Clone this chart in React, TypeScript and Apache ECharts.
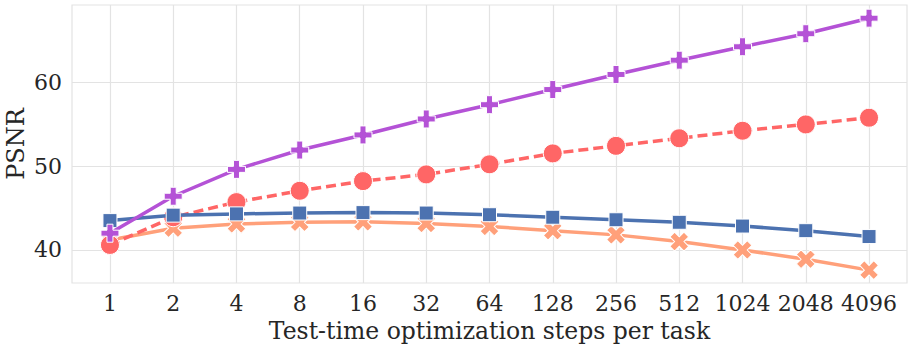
import React, { useEffect, useRef } from "react";
import * as echarts from "echarts";

const steps = ["1", "2", "4", "8", "16", "32", "64", "128", "256", "512", "1024", "2048", "4096"];
const blueSquare = [43.5, 44.15, 44.3, 44.4, 44.45, 44.4, 44.2, 43.9, 43.6, 43.3, 42.85, 42.3, 41.6];
const orangeX = [41.2, 42.6, 43.1, 43.3, 43.35, 43.15, 42.8, 42.3, 41.8, 41.0, 40.0, 38.9, 37.6];
const redCircle = [40.6, 43.9, 45.7, 47.05, 48.2, 49.0, 50.2, 51.5, 52.4, 53.3, 54.2, 54.95, 55.75];
const purplePlus = [42.0, 46.4, 49.6, 51.9, 53.7, 55.6, 57.3, 59.1, 60.9, 62.6, 64.2, 65.75, 67.6];
const yTicks = [40, 50, 60];

const PLUS = "path://M2,0H4V2H6V4H4V6H2V4H0V2H2Z";
const FONT = "DejaVu Serif";

export default function App() {
  const ref = useRef<HTMLDivElement>(null);
  useEffect(() => {
    document.body.style.margin = "0";
    if (!ref.current) return;
    const chart = echarts.init(ref.current, null, { renderer: "svg" });
    const idx = steps.map((_, i) => i);
    const toData = (arr: number[]) => arr.map((v, i) => [i, v]);
    const mk = (name: string, data: number[], color: string, symbol: string, size: number, rotate = 0, dashed = false, z = 2) => ({
      name,
      type: "line",
      data: toData(data),
      symbol,
      symbolSize: size,
      symbolRotate: rotate,
      z,
      lineStyle: { color, width: 3.5, type: dashed ? [10, 5] : "solid" },
      itemStyle: { color, borderColor: "#ffffff", borderWidth: 1 },
      emphasis: { disabled: true },
    });
    chart.setOption({
      animation: false,
      backgroundColor: "#ffffff",
      grid: {
        left: 72,
        top: 5,
        right: 6,
        bottom: 65,
        outerBoundsMode: "none",
        containLabel: false,
        show: true,
        borderColor: "#e3e3e3",
        borderWidth: 1.2,
        backgroundColor: "#ffffff",
      },
      xAxis: {
        type: "value",
        min: -0.6,
        max: 12.6,
        name: "Test-time optimization steps per task",
        nameLocation: "middle",
        nameGap: 35,
        nameTextStyle: { fontFamily: FONT, fontSize: 23.5, color: "#262626" },
        axisLine: { show: false },
        axisTick: { show: false, customValues: idx },
        axisLabel: {
          customValues: idx,
          formatter: (v: number) => steps[Math.round(v)] ?? "",
          fontFamily: FONT,
          fontSize: 22,
          color: "#262626",
          margin: 9,
        },
        splitLine: { show: true, lineStyle: { color: "#e3e3e3", width: 1.2 } },
      },
      yAxis: {
        type: "value",
        min: 36.07,
        max: 69.17,
        name: "PSNR",
        nameLocation: "middle",
        nameGap: 44,
        nameMoveOverlap: false,
        nameTextStyle: { fontFamily: FONT, fontSize: 24, color: "#262626" },
        axisLine: { show: false },
        axisTick: { show: false, customValues: yTicks },
        axisLabel: {
          customValues: yTicks,
          fontFamily: FONT,
          fontSize: 22,
          color: "#262626",
          margin: 10,
        },
        splitLine: { show: true, lineStyle: { color: "#e3e3e3", width: 1.2 } },
      },
      series: [
        mk("orange", orangeX, "#ffa07a", PLUS, 20, 45, false, 2),
        mk("red", redCircle, "#ff6666", "circle", 19, 0, true, 3),
        mk("blue", blueSquare, "#4c72b0", "rect", 14, 0, false, 4),
        mk("purple", purplePlus, "#b452d6", PLUS, 18, 0, false, 5),
      ],
    });
    return () => chart.dispose();
  }, []);
  return <div ref={ref} style={{ width: 913, height: 348 }} />;
}
